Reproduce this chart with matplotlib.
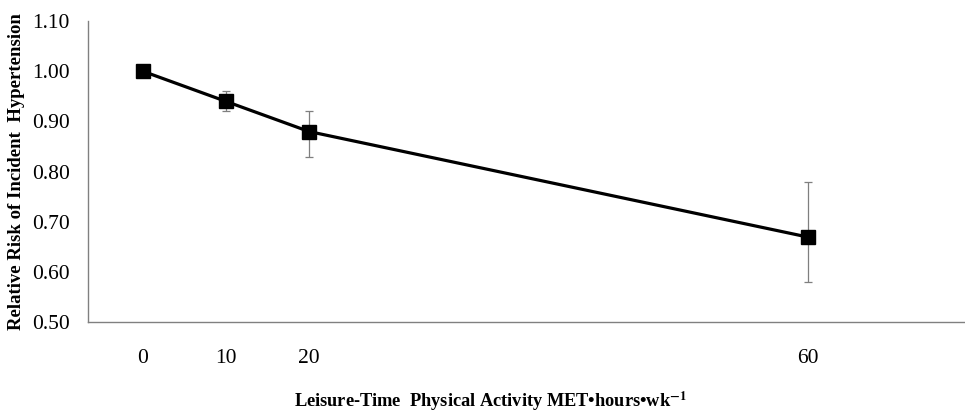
import matplotlib.pyplot as plt

plt.rcParams['font.family'] = ['Liberation Serif', 'DejaVu Serif']
plt.rcParams['mathtext.fontset'] = 'stix'

# met-hours per week, drawn at the same uneven spacing as the original chart
x_pos = [0, 1, 2, 8]
x_labels = ['0', '10', '20', '60']
rr = [1.00, 0.94, 0.88, 0.67]
ci_low = [1.00, 0.92, 0.83, 0.58]
ci_high = [1.00, 0.96, 0.92, 0.78]

fig = plt.figure(figsize=(9.65, 4.15), dpi=100)
ax = fig.add_axes([0.0912, 0.2229, 0.9088, 0.7265])

yerr = [[r - lo for r, lo in zip(rr, ci_low)], [hi - r for r, hi in zip(rr, ci_high)]]
ax.errorbar(x_pos, rr, yerr=yerr, fmt='none', ecolor='#7f7f7f', elinewidth=0.9,
            capsize=3, capthick=0.9, zorder=2)
ax.plot(x_pos, rr, color='black', linewidth=2.3, marker='s', markersize=9.5, zorder=3)

ax.set_xlim(-0.66, 9.89)
ax.set_ylim(0.50, 1.10)
ax.set_yticks([0.5, 0.6, 0.7, 0.8, 0.9, 1.0, 1.1])
ax.set_yticklabels([f"{v:.2f}" for v in ax.get_yticks()], fontsize=15.5)
ax.set_xticks(x_pos)
ax.set_xticklabels(x_labels, fontsize=15.5)
ax.tick_params(axis='x', length=0, pad=19)
ax.tick_params(axis='y', length=0, pad=13)

for s in ['top', 'right']:
    ax.spines[s].set_visible(False)
for s in ['left', 'bottom']:
    ax.spines[s].set_color('#808080')
    ax.spines[s].set_linewidth(1.0)

ax.set_ylabel('Relative Risk of Incident  Hypertension', fontsize=13.5, fontweight='bold', labelpad=5)
fig.text(490 / 965, 1 - 401 / 415, r'Leisure-Time  Physical Activity MET•hours•wk$^{\mathbf{-1}}$',
         ha='center', va='center', fontsize=13.2, fontweight='bold')

fig.savefig('out.png', dpi=100)
